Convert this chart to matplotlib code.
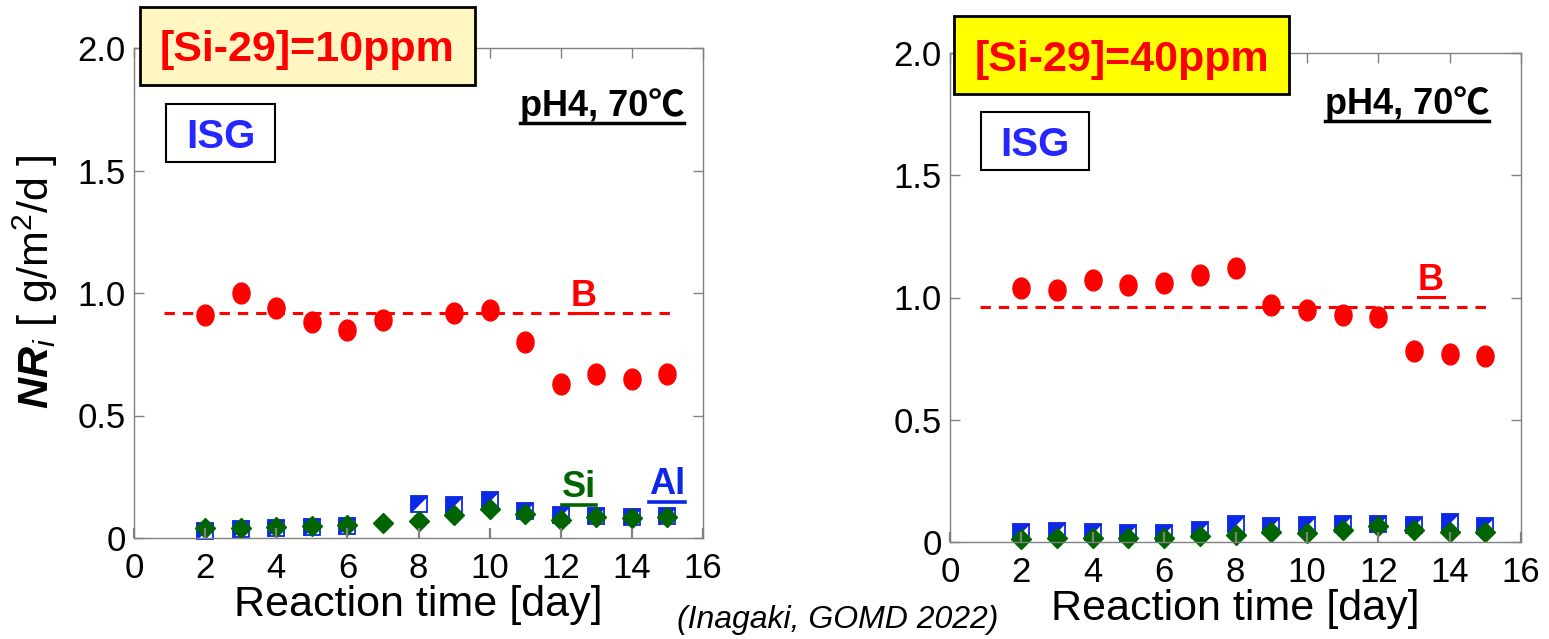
import numpy as np
import matplotlib
matplotlib.use('Agg')
import matplotlib.pyplot as plt
from matplotlib.patches import Rectangle
from matplotlib.lines import Line2D
from matplotlib import font_manager as fm

plt.rcParams['font.family'] = ['Liberation Sans', 'DejaVu Sans']
plt.rcParams['mathtext.fontset'] = 'custom'
plt.rcParams['mathtext.rm'] = 'Liberation Sans'
plt.rcParams['mathtext.it'] = 'Liberation Sans:italic'
plt.rcParams['mathtext.bf'] = 'Liberation Sans:bold'
plt.rcParams['mathtext.bfit'] = 'Liberation Sans:italic:bold'

# ---------------- data ----------------
days = [2, 3, 4, 5, 6, 7, 8, 9, 10, 11, 12, 13, 14, 15]
nan = np.nan
b_10ppm = [0.91, 1.00, 0.94, 0.88, 0.85, 0.89, nan, 0.92, 0.93, 0.80, 0.63, 0.67, 0.65, 0.67]
al_10ppm = [0.03, 0.035, 0.04, 0.045, 0.05, nan, 0.14, 0.135, 0.155, 0.11, 0.095, 0.09, 0.085, 0.09]
si_10ppm = [0.04, 0.04, 0.045, 0.05, 0.055, 0.06, 0.07, 0.095, 0.12, 0.10, 0.075, 0.085, 0.08, 0.085]
b_40ppm = [1.04, 1.03, 1.07, 1.05, 1.06, 1.09, 1.12, 0.97, 0.95, 0.93, 0.92, 0.78, 0.77, 0.76]
al_40ppm = [0.04, 0.045, 0.04, 0.035, 0.035, 0.05, 0.075, 0.065, 0.07, 0.075, 0.075, 0.07, 0.08, 0.065]
si_40ppm = [0.012, 0.015, 0.018, 0.018, 0.018, 0.025, 0.03, 0.04, 0.037, 0.05, 0.065, 0.048, 0.042, 0.042]
b_mean_10ppm = 0.92
b_mean_40ppm = 0.96
mean_span = [0.85, 15.2]
x_ticks = [0, 2, 4, 6, 8, 10, 12, 14, 16]
y_ticks = [0, 0.5, 1.0, 1.5, 2.0]
y_tick_labels = ['0', '0.5', '1.0', '1.5', '2.0']
titles = ['[Si-29]=10ppm', '[Si-29]=40ppm']
condition = 'pH4, 70\u2103'
glass = 'ISG'
citation = '(Inagaki, GOMD 2022)'

W, H = 1549, 639
fig = plt.figure(figsize=(W / 100, H / 100), dpi=100)


def fx(px):
    return px / W


def fy(py):
    return 1 - py / H


def axes_px(l, t, r, b):
    return fig.add_axes([fx(l), fy(b), (r - l) / W, (b - t) / H])


RED = '#FF0000'
BLUE = '#0A28E6'
GREEN = '#006400'
GRAY = '#808080'

t_ell = np.linspace(0, 2 * np.pi, 60)
ellipse = list(zip(0.82 * np.cos(t_ell), np.sin(t_ell)))
half_tri = [(-1, 1), (1, 1), (-1, -1), (-1, 1)]

ax1 = axes_px(134, 48, 703, 538)
ax2 = axes_px(950, 53, 1521, 542)

for ax, b, al, si, bm in [(ax1, b_10ppm, al_10ppm, si_10ppm, b_mean_10ppm),
                          (ax2, b_40ppm, al_40ppm, si_40ppm, b_mean_40ppm)]:
    ax.set_xlim(0, 16)
    ax.set_ylim(0, 2)
    ax.plot(mean_span, [bm, bm], ls=(0, (3.4, 2.6)), color=RED, lw=2.2, zorder=1.2)
    ax.plot(days, b, ls='none', marker=ellipse, ms=15, color=RED, mec=RED, zorder=1.5)
    ax.plot(days, al, ls='none', marker='s', ms=12, mfc='white', mec=BLUE, mew=1.3,
            zorder=1.3, clip_on=False)
    ax.plot(days, al, ls='none', marker=half_tri, ms=12, mfc=BLUE, mec=BLUE, mew=0.5,
            zorder=1.35, clip_on=False)
    ax.plot(days, si, ls='none', marker='D', ms=10, color=GREEN, mec=GREEN, zorder=1.4,
            clip_on=False)
    ax.set_xticks(x_ticks)
    ax.set_yticks(y_ticks)
    ax.set_yticklabels(y_tick_labels)
    ax.tick_params(axis='both', direction='in', length=7, width=1.0, color=GRAY,
                   labelsize=25, top=True, right=True, pad=6)
    ax.tick_params(axis='x', pad=10)
    for tk in ax.xaxis.get_major_ticks():
        tk.tick1line.set_color('black')
        tk.tick1line.set_markeredgewidth(1.6)
    for sp in ax.spines.values():
        sp.set_color(GRAY)
        sp.set_linewidth(1.0)
    ax.set_xlabel('Reaction time [day]', fontsize=31, labelpad=0)

ax1.set_ylabel(r'$\mathbfit{NR}_{\mathit{i}}$ [ g/m$^{\mathregular{2}}$/d ]', fontsize=31)
ax1.yaxis.set_label_coords(-0.13, 0.524)

# title boxes
for (l, t, r, b), fc, s in [((140, 7, 475, 85), '#FFF6C2', titles[0]),
                            ((954, 16, 1289, 94), '#FFFF00', titles[1])]:
    fig.add_artist(Rectangle((fx(l), fy(b)), (r - l) / W, (b - t) / H, transform=fig.transFigure,
                             facecolor=fc, edgecolor='black', lw=2.0, zorder=5))
    fig.text(fx((l + r) / 2), fy((t + b) / 2), s, color=RED, fontsize=31, fontweight='bold',
             ha='center', va='center_baseline', zorder=6)

for (l, t, r, b) in [(166, 104, 275, 162), (981, 112, 1089, 170)]:
    fig.add_artist(Rectangle((fx(l), fy(b)), (r - l) / W, (b - t) / H, transform=fig.transFigure,
                             facecolor='white', edgecolor='black', lw=1.5, zorder=5))
    fig.text(fx((l + r) / 2), fy((t + b) / 2), glass, color='#2626FF', fontsize=29,
             fontweight='bold', ha='center', va='center_baseline', zorder=6)

names = {f.name for f in fm.fontManager.ttflist}
cond_family = ['Liberation Sans Narrow' if 'Liberation Sans Narrow' in names else 'Liberation Sans',
               'Noto Sans CJK JP', 'DejaVu Sans']

underlined = []


def utext(x, y, s, color, size, family=None, gap=7, lw=2.2):
    kw = dict(color=color, fontsize=size, fontweight='bold', ha='center', va='baseline', zorder=6)
    if family:
        kw['family'] = family
    t = fig.text(fx(x), fy(y), s, **kw)
    underlined.append((t, y + gap, color, lw))


utext(602, 116, condition, 'black', 26, family=cond_family, gap=7, lw=2.5)
utext(1407, 114, condition, 'black', 26, family=cond_family, gap=7, lw=2.5)
utext(584, 306, 'B', RED, 26, gap=7)
utext(1431, 290, 'B', RED, 26, gap=7)
utext(579, 497, 'Si', GREEN, 26, gap=8, lw=2.6)
utext(667, 494, 'Al', BLUE, 26, gap=8, lw=2.6)

fig.text(fx(838), fy(620), citation, fontsize=23, fontstyle='italic', ha='center', va='center')

fig.canvas.draw()
r = fig.canvas.get_renderer()
for t, yy, c, lw in underlined:
    bb = t.get_window_extent(r)
    fig.add_artist(Line2D([bb.x0 / W, bb.x1 / W], [fy(yy), fy(yy)], transform=fig.transFigure,
                          color=c, lw=lw, zorder=6))

fig.savefig('out.png', dpi=100)
